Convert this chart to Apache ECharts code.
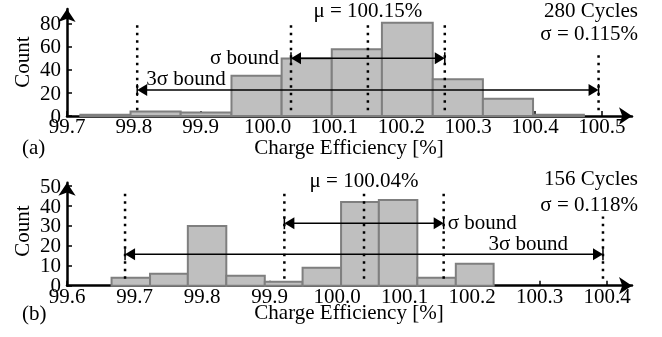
<!DOCTYPE html>
<html>
<head>
<meta charset="utf-8">
<script src="https://cdn.jsdelivr.net/npm/echarts@6/dist/echarts.min.js"></script>
<style>
  html, body { margin: 0; padding: 0; background: #fff; }
  #chart { width: 662px; height: 337px; }
</style>
</head>
<body>
<div id="chart"></div>
<script>
// ---- (a) 280 cycles ----
const binEdgesA = [99.720, 99.795, 99.870, 99.946, 100.021, 100.096, 100.171, 100.247, 100.322, 100.397, 100.473];
const countsA   = [1, 4, 3, 35, 50, 58, 81, 32, 15, 1];
const meanA = 100.15;
const sigmaA = 0.115;
const cyclesA = 280;
const xTicksA = [99.7, 99.8, 99.9, 100.0, 100.1, 100.2, 100.3, 100.4, 100.5];
const yTicksA = [0, 20, 40, 60, 80];

// ---- (b) 156 cycles ----
const binEdgesB = [99.666, 99.723, 99.779, 99.836, 99.893, 99.949, 100.006, 100.062, 100.119, 100.176, 100.232];
const countsB   = [4, 6, 30, 5, 2, 9, 42, 43, 4, 11];
const meanB = 100.04;
const sigmaB = 0.118;
const cyclesB = 156;
const xTicksB = [99.6, 99.7, 99.8, 99.9, 100.0, 100.1, 100.2, 100.3, 100.4];
const yTicksB = [0, 10, 20, 30, 40, 50];

const FONT = '"Liberation Serif", "Times New Roman", serif';
const BLACK = '#000';

const chart = echarts.init(document.getElementById('chart'), null, { renderer: 'canvas' });

function xAxisCfg(g, min, max, ticks) {
  return {
    type: 'value', gridIndex: g, min: min, max: max,
    splitLine: { show: false },
    axisLine: { show: true, onZero: false, lineStyle: { color: BLACK, width: 2.5 },
                symbol: ['none', 'arrow'], symbolSize: [13, 13] },
    axisTick: { show: true, inside: true, length: 5, customValues: ticks,
                lineStyle: { color: BLACK, width: 1.5 } },
    axisLabel: { customValues: ticks, formatter: v => v.toFixed(1), margin: 1,
                 showMinLabel: true, showMaxLabel: true, hideOverlap: false,
                 color: BLACK, fontSize: 21, fontFamily: FONT }
  };
}
// count labels are placed as text elements after layout (the ticks are tightly packed)
function yAxisCfg(g, max, ticks) {
  return {
    type: 'value', gridIndex: g, min: 0, max: max,
    splitLine: { show: false },
    axisLine: { show: true, lineStyle: { color: BLACK, width: 2.5 },
                symbol: ['none', 'arrow'], symbolSize: [13, 13] },
    axisTick: { show: true, inside: true, length: 5, customValues: ticks,
                lineStyle: { color: BLACK, width: 1.5 } },
    axisLabel: { show: false }
  };
}

// histogram bars: [left edge, right edge, count]
function histData(edges, counts) {
  return counts.map((c, i) => [edges[i], edges[i + 1], c]);
}
function histSeries(g, edges, counts) {
  return {
    type: 'custom', xAxisIndex: g, yAxisIndex: g, clip: false, z: 2,
    encode: { x: [0, 1], y: 2 },
    data: histData(edges, counts),
    renderItem: (params, api) => {
      const a = api.coord([api.value(0), api.value(2)]);
      const b = api.coord([api.value(1), 0]);
      return {
        type: 'rect',
        shape: { x: a[0], y: a[1], width: b[0] - a[0], height: b[1] - a[1] },
        style: { fill: '#bfbfbf', stroke: '#7f7f7f', lineWidth: 2 }
      };
    }
  };
}

// dotted markers at mean, ±σ, ±3σ: [x, bottom, top]
function dottedSeries(g, items) {
  return {
    type: 'custom', xAxisIndex: g, yAxisIndex: g, clip: false, z: 4,
    encode: { x: 0, y: [1, 2] },
    data: items,
    renderItem: (params, api) => {
      const a = api.coord([api.value(0), api.value(1)]);
      const b = api.coord([api.value(0), api.value(2)]);
      return {
        type: 'line',
        shape: { x1: a[0], y1: a[1], x2: b[0], y2: b[1] },
        style: { stroke: BLACK, lineWidth: 2.5, lineDash: [2.5, 5] }
      };
    }
  };
}

// double-headed bound arrows: [x from, x to, y]
function arrowSeries(g, items) {
  return {
    type: 'custom', xAxisIndex: g, yAxisIndex: g, clip: false, z: 5,
    encode: { x: [0, 1], y: 2 },
    data: items,
    renderItem: (params, api) => {
      const a = api.coord([api.value(0), api.value(2)]);
      const b = api.coord([api.value(1), api.value(2)]);
      const L = 10, H = 6;
      const y = a[1];
      return {
        type: 'group',
        children: [
          { type: 'line', shape: { x1: a[0] + 4, y1: y, x2: b[0] - 4, y2: y },
            style: { stroke: BLACK, lineWidth: 1.5 } },
          { type: 'polygon', shape: { points: [[a[0], y], [a[0] + L, y - H], [a[0] + L, y + H]] },
            style: { fill: BLACK } },
          { type: 'polygon', shape: { points: [[b[0], y], [b[0] - L, y - H], [b[0] - L, y + H]] },
            style: { fill: BLACK } },
          { type: 'line', shape: { x1: a[0], y1: y - H, x2: a[0], y2: y + H },
            style: { stroke: BLACK, lineWidth: 1.5 } },
          { type: 'line', shape: { x1: b[0], y1: y - H, x2: b[0], y2: y + H },
            style: { stroke: BLACK, lineWidth: 1.5 } }
        ]
      };
    }
  };
}

const option = {
  animation: false,
  backgroundColor: '#fff',
  grid: [
    { left: 67, right: 30, top: 9, height: 107, outerBoundsMode: 'none', containLabel: false },
    { left: 67, right: 30, top: 182.7, height: 103, outerBoundsMode: 'none', containLabel: false }
  ],
  xAxis: [
    xAxisCfg(0, 99.7, 100.545, xTicksA),
    xAxisCfg(1, 99.6, 100.437, xTicksB)
  ],
  yAxis: [
    yAxisCfg(0, 93, yTicksA),
    yAxisCfg(1, 51.7, yTicksB)
  ],
  series: [
    histSeries(0, binEdgesA, countsA),
    dottedSeries(0, [
      [meanA - 3 * sigmaA, 5, 82],
      [meanA - sigmaA, 5, 82],
      [meanA, 5, 82],
      [meanA + sigmaA, 5, 82],
      [meanA + 3 * sigmaA, 5, 54.5]
    ]),
    arrowSeries(0, [
      [meanA - sigmaA, meanA + sigmaA, 50.2],
      [meanA - 3 * sigmaA, meanA + 3 * sigmaA, 22.6]
    ]),
    histSeries(1, binEdgesB, countsB),
    dottedSeries(1, [
      [meanB - 3 * sigmaB, 3.5, 47.2],
      [meanB - sigmaB, 3.5, 46.4],
      [meanB, 3.5, 46.4],
      [meanB + sigmaB, 3.5, 47.2],
      [meanB + 3 * sigmaB, 3.5, 34.7]
    ]),
    arrowSeries(1, [
      [meanB - sigmaB, meanB + sigmaB, 31.4],
      [meanB - 3 * sigmaB, meanB + 3 * sigmaB, 15.8]
    ])
  ]
};
chart.setOption(option);

// annotation text
const px = (g, x, y) => chart.convertToPixel({ xAxisIndex: g, yAxisIndex: g }, [x, y]);
function txt(text, x, y, align, size, rot) {
  return {
    type: 'text', x: x, y: y, rotation: rot || 0, z: 10,
    style: { text: text, fill: BLACK, font: (size || 20) + 'px ' + FONT,
             align: align || 'center', verticalAlign: 'middle' }
  };
}
const fmtPct = (v, d) => v.toFixed(d) + '%';

function countLabels(g, ticks, xMin) {
  return ticks.map(t => {
    const p = px(g, xMin, t);
    return txt(String(t), p[0] - 6, p[1] + 1, 'right', 21);
  });
}

const sLeftA = px(0, meanA - sigmaA, 50.2);
const tLeftA = px(0, meanA - 3 * sigmaA, 22.6);
const muA = px(0, meanA, 0);
const sRightB = px(1, meanB + sigmaB, 31.4);
const tRightB = px(1, meanB + 3 * sigmaB, 15.8);
const muB = px(1, meanB, 0);

chart.setOption({
  graphic: [
    // (a)
    ...countLabels(0, yTicksA, 99.7),
    txt('Count', 23, 62, 'center', 21, Math.PI / 2),
    txt('(a)', 22, 148, 'left', 21),
    txt('Charge Efficiency [%]', 349, 148, 'center', 21),
    txt('\u03bc = ' + fmtPct(meanA, 2), muA[0], 11.5, 'center', 21),
    txt(cyclesA + ' Cycles', 638, 11, 'right', 21),
    txt('\u03c3 = ' + fmtPct(sigmaA, 3), 638, 34, 'right', 21),
    txt('\u03c3 bound', sLeftA[0] - 12, sLeftA[1], 'right', 21),
    txt('3\u03c3 bound', tLeftA[0] + 9, tLeftA[1] - 11, 'left', 21),
    // (b)
    ...countLabels(1, yTicksB, 99.6),
    txt('Count', 23, 231, 'center', 21, Math.PI / 2),
    txt('(b)', 22, 314, 'left', 21),
    txt('Charge Efficiency [%]', 349, 313, 'center', 21),
    txt('\u03bc = ' + fmtPct(meanB, 2), muB[0], 181.5, 'center', 21),
    txt(cyclesB + ' Cycles', 638, 179, 'right', 21),
    txt('\u03c3 = ' + fmtPct(sigmaB, 3), 638, 205, 'right', 21),
    txt('\u03c3 bound', sRightB[0] + 4, sRightB[1], 'left', 21),
    txt('3\u03c3 bound', tRightB[0] - 35, tRightB[1] - 9.5, 'right', 21)
  ]
});
</script>
</body>
</html>
